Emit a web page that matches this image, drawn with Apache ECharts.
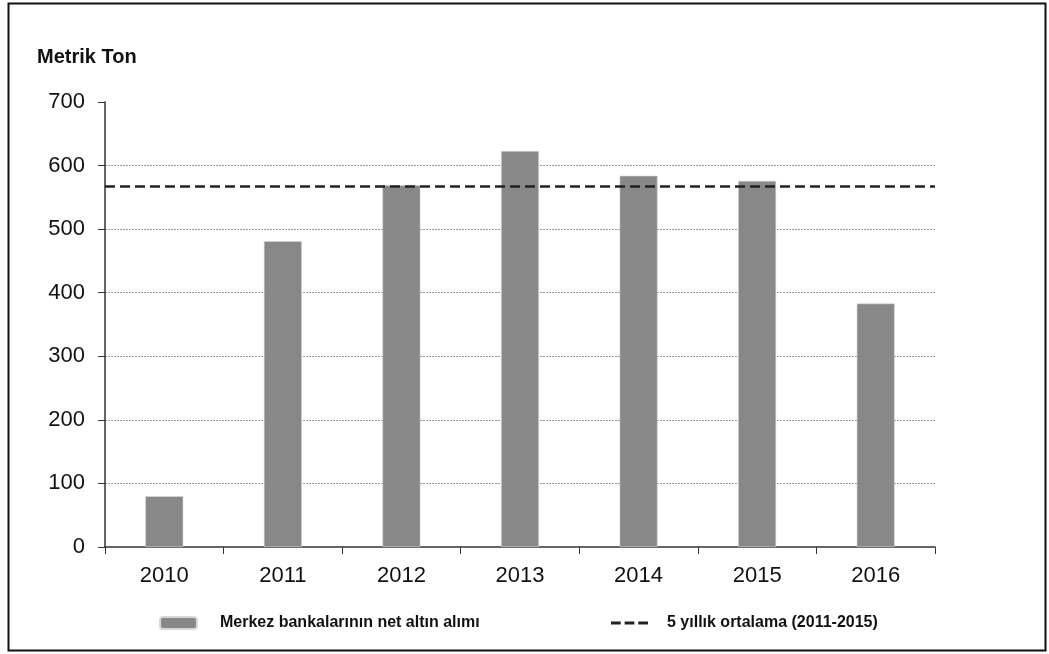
<!DOCTYPE html>
<html>
<head>
<meta charset="utf-8">
<script src="https://cdn.jsdelivr.net/npm/echarts@6/dist/echarts.min.js"></script>
<style>
  html, body { margin: 0; padding: 0; background: #fff; }
  #main { width: 1049px; height: 654px; }
</style>
</head>
<body>
<div id="main"></div>
<script>
// veriler
var years = ['2010', '2011', '2012', '2013', '2014', '2015', '2016'];
var netAlim = [80, 481, 569, 623, 584, 576, 383];
var ortalama = [567, 567];
var yTicks = [0, 100, 200, 300, 400, 500, 600, 700];

var barName = 'Merkez bankalarının net altın alımı';
var lineName = '5 yıllık ortalama (2011-2015)';

var myChart = echarts.init(document.getElementById('main'));

var option = {
    backgroundColor: '#fff',
    animation: false,
    textStyle: { fontFamily: 'Liberation Sans, Arial, sans-serif' },
    graphic: [
        {
            type: 'rect',
            shape: { x: 8.5, y: 3.5, width: 1037, height: 647 },
            style: { fill: 'none', stroke: '#111', lineWidth: 2 }
        },
        {
            type: 'text',
            left: 37, top: 47,
            style: { text: 'Metrik Ton', fontSize: 20, fontWeight: 'bold', fill: '#111', fontFamily: 'Liberation Sans, Arial' }
        }
    ],
    grid: { left: 105, right: 114, top: 102, bottom: 107 },
    legend: [
        {
            data: [barName],
            left: 159, top: 615, padding: 0,
            itemWidth: 37, itemHeight: 12,
            textStyle: { fontSize: 16, fontWeight: 'bold', color: '#111', padding: [0, 0, 0, 18] }
        },
        {
            data: [{ name: lineName, icon: 'path://M0,0 L10,0 L10,3 L0,3 Z M14,0 L24,0 L24,3 L14,3 Z M28,0 L38,0 L38,3 L28,3 Z' }],
            left: 611, top: 615, padding: 0,
            itemWidth: 37, itemHeight: 3,
            textStyle: { fontSize: 16, fontWeight: 'bold', color: '#111', padding: [0, 0, 0, 14] }
        }
    ],
    xAxis: [
        {
            type: 'category',
            data: years,
            axisLine: { lineStyle: { color: '#333', width: 1.5 } },
            axisTick: { show: true, length: 7, lineStyle: { color: '#333' } },
            axisLabel: { fontSize: 22, color: '#111', margin: 18 }
        },
        {
            type: 'value',
            min: 0, max: 1,
            show: false
        }
    ],
    yAxis: {
        type: 'value',
        min: yTicks[0],
        max: yTicks[yTicks.length - 1],
        interval: 100,
        axisLine: { show: true, lineStyle: { color: '#333', width: 1.5 } },
        axisTick: { show: true, length: 7, lineStyle: { color: '#333' } },
        axisLabel: { fontSize: 22, color: '#111', margin: 20 },
        splitLine: { showMinLine: false, showMaxLine: false, lineStyle: { color: '#999', type: [2, 1], width: 1 } }
    },
    series: [
        {
            name: barName,
            type: 'bar',
            data: netAlim,
            barWidth: 38,
            itemStyle: { color: '#888888', borderColor: '#d8d8d8', borderWidth: 0.6 }
        },
        {
            name: lineName,
            type: 'line',
            xAxisIndex: 1,
            data: [[0, ortalama[0]], [1, ortalama[1]]],
            symbol: 'none',
            itemStyle: { color: '#222' },
            lineStyle: { color: '#222', width: 2.5, type: [10, 5] },
            z: 5
        }
    ]
};

myChart.setOption(option);
</script>
</body>
</html>
